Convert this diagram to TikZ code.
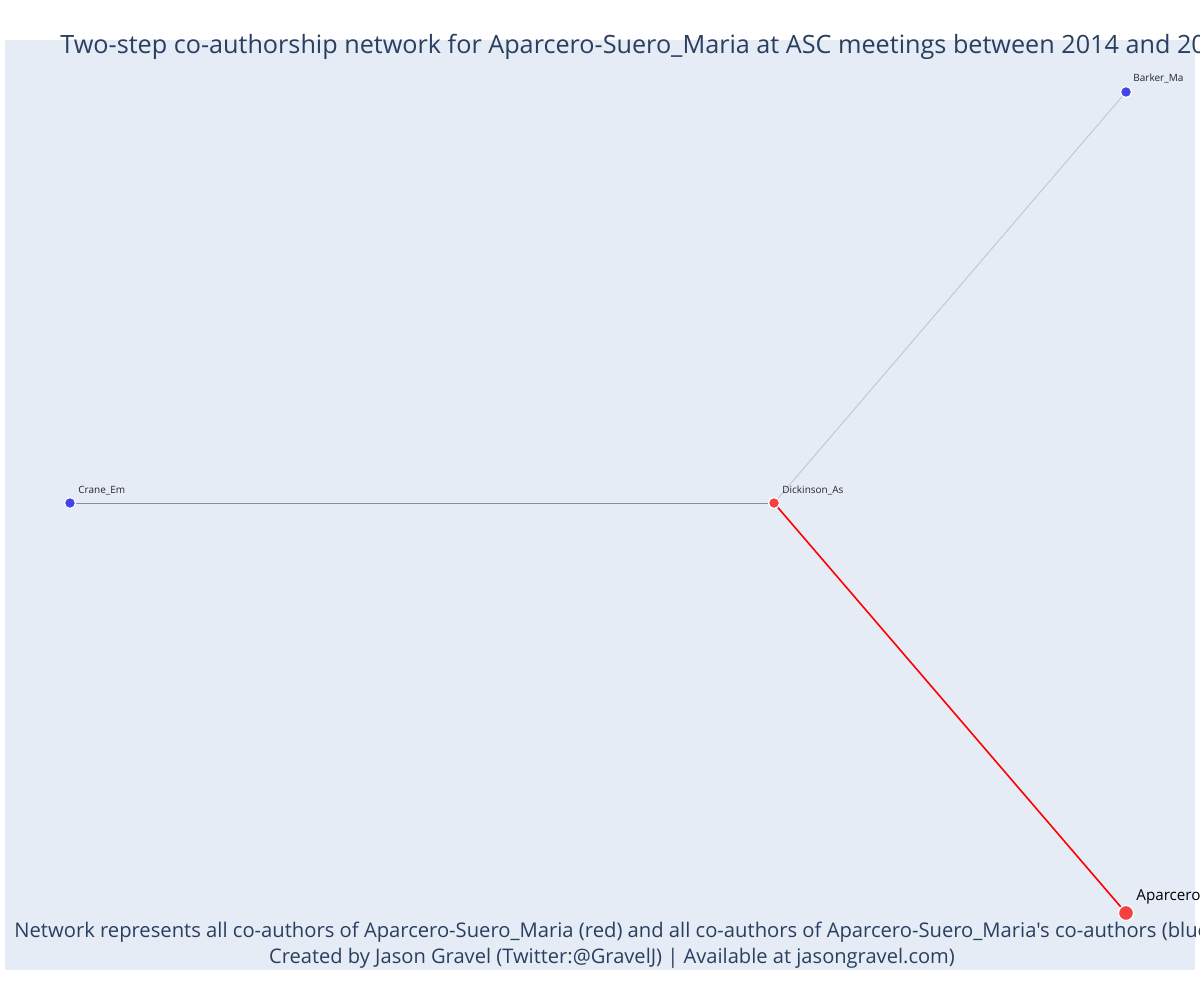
\documentclass[tikz,border=0pt]{standalone}
\usepackage{fontspec}
\setmainfont{Open Sans}[Ligatures=TeXOff]
\usetikzlibrary{positioning}
\definecolor{plotbg}{HTML}{E5ECF6}
\definecolor{plotink}{HTML}{2A3F5F}
\definecolor{coblue}{HTML}{4444EE}
\definecolor{cored}{HTML}{F54040}
\definecolor{edgegrey}{HTML}{8A8F99}
\definecolor{edgelight}{HTML}{BFC2CC}
\tikzset{
  author/.style={circle, draw=white, line width=0.6pt, inner sep=0pt, minimum size=5.5pt},
  authorb/.style={author, fill=coblue},
  authorr/.style={author, fill=cored},
  focal/.style={author, fill=cored, minimum size=7.5pt},
  nm/.style={font=\fontsize{5}{6}\selectfont, text=black!85, inner sep=0pt, anchor=base west},
  edge/.style={line width=0.5pt},
}
\begin{document}
\begin{tikzpicture}[x=0.5pt,y=-0.5pt]
  \useasboundingbox (0,0) rectangle (1200,1000);
  \fill[white] (0,0) rectangle (1200,1000);
  \clip (0,0) rectangle (1200,1000);
  \fill[plotbg] (5,40) rectangle (1195,970);
  % edges first, nodes over them
  \coordinate (dpos) at (774,503);
  \draw[edge, edgegrey] (70,503) coordinate (cpos) -- (dpos);
  \draw[edge, edgelight, line width=0.4pt] (dpos) -- (1126,92) coordinate (bpos);
  \draw[edge, red, line width=0.8pt] (dpos) -- (1126,913) coordinate (apos);
  \node[authorb] (barker) at (bpos) {};
  \node[authorb] (crane) at (cpos) {};
  \node[authorr] (dickinson) at (dpos) {};
  \node[focal] (aparcero) at (apos) {};
  \node[nm] at (1133,82) {Barker\_Ma};
  \node[nm] at (78,493) {Crane\_Em};
  \node[nm] at (782,493) {Dickinson\_As};
  \node[nm, font=\fontsize{7.6}{9}\selectfont, text=black] at (1136,900) {Aparcero-Suero\_Maria};
  % title and footer
  \node[anchor=base west, inner sep=0pt, text=plotink, font=\fontsize{12.6}{14}\selectfont] (title) at (60,54)
    {Two-step co-authorship network for Aparcero-Suero\_Maria at ASC meetings between 2014 and 20};
  \node[anchor=base west, inner sep=0pt, text=plotink, font=\fontsize{10.1}{12}\selectfont] (note) at (14,937)
    {Network represents all co-authors of Aparcero-Suero\_Maria (red) and all co-authors of Aparcero-Suero\_Maria's co-authors (blue)};
  \node[anchor=base, inner sep=0pt, text=plotink, font=\fontsize{10.05}{12}\selectfont] (credit) at (612,963)
    {Created by Jason Gravel (Twitter:@GravelJ) | Available at jasongravel.com)};
\end{tikzpicture}
\end{document}
